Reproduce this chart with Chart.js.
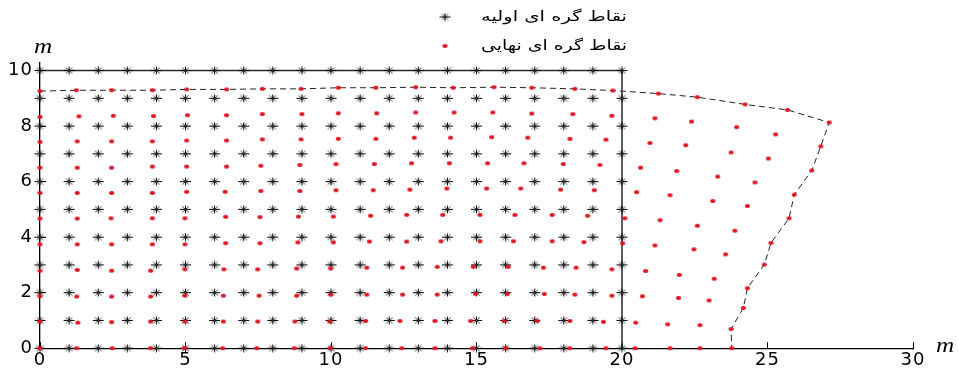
<!DOCTYPE html>
<html>
<head>
<meta charset="utf-8">
<script src="https://cdn.jsdelivr.net/npm/chart.js@4/dist/chart.umd.min.js"></script>
<style>
  html, body { margin: 0; padding: 0; background: #fff; }
  #wrap { width: 958px; height: 372px; }
</style>
</head>
<body>
<div id="wrap"><canvas id="mesh" width="958" height="372"></canvas></div>
<script>
// Initial mesh nodes (m)
const nodeX = [0, 1, 2, 3, 4, 5, 6, 7, 8, 9, 10, 11, 12, 13, 14, 15, 16, 17, 18, 19, 20];
const nodeY = [0, 1, 2, 3, 4, 5, 6, 7, 8, 9, 10];

// Final node positions, one row per initial row (bottom to top)
const finalX = [
  [0, 1.26, 2.48, 3.80, 4.96, 6.28, 7.45, 8.74, 9.99, 11.19, 12.43, 13.57, 14.86, 16.00, 17.18, 18.20, 19.45, 20.45, 21.65, 22.68, 23.77],
  [0, 1.30, 2.46, 3.80, 4.98, 6.30, 7.48, 8.76, 9.96, 11.19, 12.37, 13.57, 14.80, 15.95, 17.09, 18.21, 19.36, 20.47, 21.57, 22.68, 23.75],
  [0, 1.26, 2.46, 3.80, 4.98, 6.30, 7.53, 8.82, 9.99, 11.23, 12.46, 13.65, 14.97, 16.06, 17.33, 18.38, 19.65, 20.70, 21.94, 22.99, 24.17],
  [0, 1.28, 2.46, 3.80, 4.98, 6.32, 7.48, 8.82, 9.99, 11.23, 12.46, 13.65, 14.89, 16.09, 17.30, 18.42, 19.65, 20.81, 21.97, 23.17, 24.31],
  [0, 1.28, 2.46, 3.86, 4.98, 6.38, 7.56, 8.86, 10.08, 11.32, 12.60, 13.78, 15.12, 16.27, 17.60, 18.69, 20.02, 21.13, 22.47, 23.56, 24.89],
  [0, 1.28, 2.44, 3.86, 4.98, 6.38, 7.56, 8.88, 10.08, 11.36, 12.60, 13.84, 15.12, 16.32, 17.60, 18.82, 20.10, 21.31, 22.59, 23.88, 25.12],
  [0, 1.28, 2.46, 3.86, 5.04, 6.36, 7.59, 8.93, 10.17, 11.45, 12.71, 13.98, 15.35, 16.52, 17.89, 19.05, 20.50, 21.65, 23.12, 24.31, 25.74],
  [0, 1.28, 2.46, 3.86, 5.04, 6.41, 7.59, 8.93, 10.17, 11.49, 12.77, 14.07, 15.38, 16.63, 17.98, 19.24, 20.64, 21.88, 23.29, 24.57, 25.92],
  [0, 1.28, 2.46, 3.86, 5.04, 6.41, 7.64, 8.97, 10.25, 11.54, 12.86, 14.11, 15.52, 16.76, 18.21, 19.45, 20.96, 22.19, 23.75, 25.03, 26.52],
  [0, 1.34, 2.52, 3.90, 5.07, 6.41, 7.64, 9.00, 10.25, 11.57, 12.91, 14.23, 15.56, 16.90, 18.31, 19.65, 21.13, 22.39, 23.94, 25.28, 26.83],
  [0, 1.25, 2.46, 3.86, 5.04, 6.41, 7.64, 8.97, 10.25, 11.54, 12.91, 14.20, 15.60, 16.90, 18.38, 19.68, 21.25, 22.59, 24.23, 25.69, 27.12]
];
const finalY = [
  [0, 0, 0, 0, 0, 0, 0, 0, 0, 0, 0, 0, 0, 0, 0, 0, 0, 0, 0, 0, 0],
  [0.96, 0.92, 0.94, 0.96, 0.96, 0.96, 0.96, 0.96, 0.96, 0.98, 0.98, 0.98, 0.98, 0.98, 0.98, 0.98, 0.95, 0.92, 0.86, 0.83, 0.69],
  [1.87, 1.86, 1.86, 1.86, 1.89, 1.89, 1.89, 1.89, 1.93, 1.93, 1.93, 1.93, 1.96, 1.96, 1.95, 1.93, 1.89, 1.87, 1.81, 1.72, 1.45],
  [2.79, 2.82, 2.79, 2.79, 2.84, 2.84, 2.84, 2.87, 2.87, 2.90, 2.90, 2.93, 2.93, 2.93, 2.90, 2.90, 2.84, 2.78, 2.64, 2.50, 2.16],
  [3.74, 3.74, 3.74, 3.74, 3.74, 3.78, 3.78, 3.81, 3.81, 3.84, 3.84, 3.85, 3.85, 3.85, 3.85, 3.82, 3.78, 3.70, 3.56, 3.38, 3.01],
  [4.67, 4.67, 4.68, 4.68, 4.68, 4.73, 4.72, 4.74, 4.74, 4.77, 4.80, 4.80, 4.80, 4.80, 4.80, 4.77, 4.68, 4.61, 4.41, 4.23, 3.79],
  [5.59, 5.59, 5.59, 5.59, 5.63, 5.63, 5.66, 5.66, 5.69, 5.69, 5.71, 5.75, 5.75, 5.75, 5.71, 5.69, 5.62, 5.51, 5.30, 5.12, 4.68],
  [6.50, 6.50, 6.50, 6.54, 6.54, 6.54, 6.57, 6.60, 6.63, 6.63, 6.66, 6.66, 6.66, 6.66, 6.63, 6.60, 6.50, 6.38, 6.18, 5.97, 5.53],
  [7.43, 7.45, 7.45, 7.45, 7.48, 7.48, 7.52, 7.52, 7.54, 7.54, 7.58, 7.58, 7.60, 7.58, 7.54, 7.51, 7.39, 7.31, 7.05, 6.83, 6.40],
  [8.33, 8.35, 8.37, 8.36, 8.39, 8.39, 8.43, 8.43, 8.46, 8.46, 8.49, 8.49, 8.49, 8.45, 8.43, 8.37, 8.28, 8.16, 7.96, 7.70, 7.27],
  [9.26, 9.29, 9.29, 9.29, 9.32, 9.32, 9.34, 9.34, 9.38, 9.38, 9.40, 9.38, 9.40, 9.38, 9.34, 9.28, 9.17, 9.04, 8.78, 8.58, 8.13]
];

const xTicks = [0, 5, 10, 15, 20, 25, 30];
const yTicks = [0, 2, 4, 6, 8, 10];
const seriesNames = ['نقاط گره ای اولیه', 'نقاط گره ای نهایی'];
const unitLabel = 'm';

// ---- point lists ----
const initialPts = [];
nodeY.forEach(y => nodeX.forEach(x => initialPts.push({ x, y })));

const finalPts = [];
finalX.forEach((row, j) => row.forEach((x, i) => finalPts.push({ x, y: finalY[j][i] })));

// outline of the original block (top and right edges)
const xEnd = nodeX[nodeX.length - 1], yEnd = nodeY[nodeY.length - 1];
const blockEdge = [{ x: nodeX[0], y: yEnd }, { x: xEnd, y: yEnd }, { x: xEnd, y: nodeY[0] }];

// outline of the deformed block: top row, then right column downward
const topRow = finalX.length - 1, lastCol = finalX[0].length - 1;
const deformedEdge = finalX[topRow].map((x, i) => ({ x, y: finalY[topRow][i] }));
for (let j = topRow - 1; j >= 0; j--) deformedEdge.push({ x: finalX[j][lastCol], y: finalY[j][lastCol] });

// ---- marker sprites ----
function asteriskSprite() {
  const c = document.createElement('canvas');
  c.width = 13; c.height = 9;
  const g = c.getContext('2d');
  g.lineWidth = 1;
  g.strokeStyle = '#000';
  g.beginPath();
  g.moveTo(1, 4.5); g.lineTo(12, 4.5);
  g.moveTo(6.5, 0.6); g.lineTo(6.5, 8.4);
  g.stroke();
  g.strokeStyle = '#444';
  g.beginPath();
  g.moveTo(3.2, 1.6); g.lineTo(9.8, 7.4);
  g.moveTo(3.2, 7.4); g.lineTo(9.8, 1.6);
  g.stroke();
  return c;
}
function dotSprite() {
  const c = document.createElement('canvas');
  c.width = 7; c.height = 6;
  const g = c.getContext('2d');
  g.fillStyle = '#e0141e';
  g.beginPath();
  g.ellipse(3.5, 3, 2.6, 2.0, 0, 0, Math.PI * 2);
  g.fill();
  return c;
}
const starMark = asteriskSprite();
const dotMark = dotSprite();

// ---- legend and unit labels ----
const annotations = {
  id: 'annotations',
  beforeDraw(chart) {
    chart.ctx.letterSpacing = '1px';   // wide axis numerals
  },
  afterDraw(chart) {
    const ctx = chart.ctx;
    const marks = [starMark, dotMark];
    const rowY = [17, 46];
    ctx.save();
    ctx.letterSpacing = '0px';
    ctx.fillStyle = '#000';
    seriesNames.forEach((name, k) => {
      const m = marks[k];
      ctx.drawImage(m, 445 - m.width / 2, rowY[k] - m.height / 2);
      ctx.font = '14px "DejaVu Sans"';
      const w = ctx.measureText(name).width;
      ctx.save();
      ctx.translate(627, rowY[k]);
      ctx.scale(146 / w, 1);
      ctx.textAlign = 'right';
      ctx.textBaseline = 'middle';
      ctx.fillText(name, 0, 0);
      ctx.restore();
    });
    ctx.font = 'italic 21px "Liberation Serif"';
    ctx.textBaseline = 'middle';
    ctx.textAlign = 'center';
    const xs = chart.scales.x, ys = chart.scales.y;
    ctx.save();
    ctx.translate(xs.left + 3, ys.top - 15);
    ctx.scale(1.2, 1);
    ctx.fillText(unitLabel, 0, 0);
    ctx.restore();
    ctx.save();
    ctx.translate(xs.right + 32, ys.bottom - 2);
    ctx.scale(1.2, 1);
    ctx.fillText(unitLabel, 0, 0);
    ctx.restore();
    ctx.restore();
  }
};

const axisFont = { family: '"DejaVu Sans"', size: 18 };

new Chart(document.getElementById('mesh'), {
  type: 'scatter',
  data: {
    datasets: [
      {
        label: seriesNames[1],
        data: finalPts,
        pointStyle: dotMark,
        pointRadius: 3,
        showLine: false,
        clip: false
      },
      {
        label: seriesNames[0],
        data: initialPts,
        pointStyle: starMark,
        pointRadius: 5,
        showLine: false,
        clip: false
      },
      {
        label: 'block',
        data: blockEdge,
        showLine: true,
        pointRadius: 0,
        borderColor: '#2a2a2a',
        borderWidth: 1.5,
        clip: false
      },
      {
        label: 'deformed outline',
        data: deformedEdge,
        showLine: true,
        pointRadius: 0,
        borderColor: '#222',
        borderWidth: 1,
        borderDash: [6, 4],
        clip: false
      }
    ]
  },
  options: {
    responsive: false,
    animation: false,
    events: [],
    layout: { padding: { top: 62.2, right: 45, left: 0, bottom: 0 } },
    plugins: { legend: { display: false }, tooltip: { enabled: false } },
    scales: {
      x: {
        type: 'linear',
        position: 'bottom',
        min: 0,
        max: 30,
        afterBuildTicks: s => { s.ticks = xTicks.map(v => ({ value: v })); },
        afterFit: s => { s.height = 19.3; },
        grid: { drawOnChartArea: false, drawTicks: true, tickLength: -6, color: '#000', lineWidth: 1 },
        border: { display: true, color: '#000', width: 1.3 },
        ticks: { padding: 7, color: '#000', font: axisFont, maxRotation: 0 }
      },
      y: {
        type: 'linear',
        position: 'left',
        min: 0,
        max: 10.3,
        afterBuildTicks: s => { s.ticks = yTicks.map(v => ({ value: v })); },
        afterFit: s => { s.width = 40; },
        grid: { drawOnChartArea: false, drawTicks: true, tickLength: -6, color: '#000', lineWidth: 1 },
        border: { display: true, color: '#000', width: 1.3 },
        ticks: { padding: 13, color: '#000', font: axisFont }
      }
    }
  },
  plugins: [annotations]
});
</script>
</body>
</html>
